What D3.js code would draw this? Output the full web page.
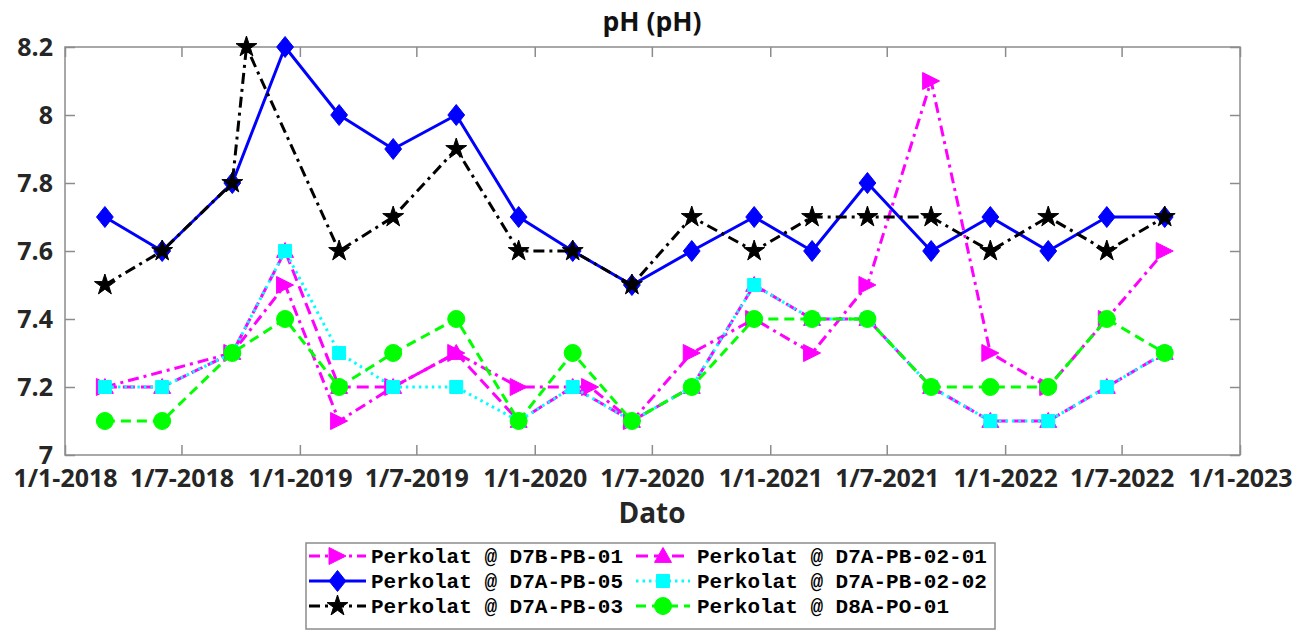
<!DOCTYPE html>
<meta charset="utf-8">

<style>

body {
  margin: 0;
  background: white;
}

svg.chart text {
  font-family: "Open Sans", sans-serif;
}

svg.chart .axis text {
  font-size: 25px;
  font-weight: 700;
  fill: #262626;
}

svg.chart .axis line {
  stroke: #8c8c8c;
  stroke-width: 1.5;
}

svg.chart text.title {
  font-size: 26.5px;
  font-weight: 700;
  fill: #111;
  text-anchor: middle;
}

svg.chart text.xlabel {
  font-size: 28px;
  font-weight: 700;
  fill: #262626;
  text-anchor: middle;
}

svg.chart .legend text {
  font-family: "Liberation Mono", monospace;
  font-size: 21px;
  font-weight: 700;
  fill: #000;
}

</style>

<svg class="chart" width="1309" height="631"></svg>

<script src="https://cdn.jsdelivr.net/npm/d3@7"></script>

<script>

// sampling dates (union of all series)
var dates = [
  "2018-03-04", "2018-06-01", "2018-09-18", "2018-10-10", "2018-12-09",
  "2019-03-03", "2019-05-26", "2019-09-01", "2019-12-07", "2020-02-29",
  "2020-03-27", "2020-05-31", "2020-09-01", "2020-12-07", "2021-03-07",
  "2021-06-01", "2021-09-08", "2021-12-09", "2022-03-09", "2022-06-08",
  "2022-09-06"
];

var seriesNames = [
  "Perkolat @ D7B-PB-01",
  "Perkolat @ D7A-PB-05",
  "Perkolat @ D7A-PB-03",
  "Perkolat @ D7A-PB-02-01",
  "Perkolat @ D7A-PB-02-02",
  "Perkolat @ D8A-PO-01"
];

var d7bPb01 =   [7.2, null, 7.3, null, 7.5, 7.1, 7.2, 7.3, 7.2, null, 7.2, 7.1, 7.3, 7.4, 7.3, 7.5, 8.1, 7.3, 7.2, 7.4, 7.6];
var d7aPb05 =   [7.7, 7.6, 7.8, null, 8.2, 8.0, 7.9, 8.0, 7.7, 7.6, null, 7.5, 7.6, 7.7, 7.6, 7.8, 7.6, 7.7, 7.6, 7.7, 7.7];
var d7aPb03 =   [7.5, 7.6, 7.8, 8.2, null, 7.6, 7.7, 7.9, 7.6, 7.6, null, 7.5, 7.7, 7.6, 7.7, 7.7, 7.7, 7.6, 7.7, 7.6, 7.7];
var d7aPb0201 = [7.2, 7.2, 7.3, null, 7.6, 7.2, 7.2, 7.3, 7.1, 7.2, null, 7.1, 7.2, 7.5, 7.4, 7.4, 7.2, 7.1, 7.1, 7.2, 7.3];
var d7aPb0202 = [7.2, 7.2, 7.3, null, 7.6, 7.3, 7.2, 7.2, 7.1, 7.2, null, 7.1, 7.2, 7.5, 7.4, 7.4, 7.2, 7.1, 7.1, 7.2, 7.3];
var d8aPo01 =   [7.1, 7.1, 7.3, null, 7.4, 7.2, 7.3, 7.4, 7.1, 7.3, null, 7.1, 7.2, 7.4, 7.4, 7.4, 7.2, 7.2, 7.2, 7.4, 7.3];

var xTickValues = [
  "2018-01-01", "2018-07-01", "2019-01-01", "2019-07-01", "2020-01-01",
  "2020-07-01", "2021-01-01", "2021-07-01", "2022-01-01", "2022-07-01",
  "2023-01-01"
];
var yTickValues = [7, 7.2, 7.4, 7.6, 7.8, 8, 8.2];

var svg = d3.select("svg.chart");
var plot = {left: 65, right: 1240, top: 47, bottom: 455};

var parseDate = d3.timeParse("%Y-%m-%d");
var formatTick = d3.timeFormat("%-d/%-m-%Y");

var xScale = d3.scaleTime()
  .domain([parseDate(xTickValues[0]), parseDate(xTickValues[xTickValues.length - 1])])
  .range([plot.left, plot.right]);

var yScale = d3.scaleLinear()
  .domain([7, 8.2])
  .range([plot.bottom, plot.top]);

// marker shapes
function diamond(s) {
  var w = s * 0.8, h = s;
  return `M0,${-h}L${w},0L0,${h}L${-w},0Z`;
}
function triRight(s) {
  return `M${s},0L${-s},${-s}L${-s},${s}Z`;
}
function triUp(s) {
  return `M0,${-s}L${s},${s * 0.75}L${-s},${s * 0.75}Z`;
}
function square(s) {
  return `M${-s},${-s}H${s}V${s}H${-s}Z`;
}
function circle(s) {
  return `M${s},0A${s},${s} 0 1,1 ${-s},0A${s},${s} 0 1,1 ${s},0Z`;
}
function star(s) {
  return d3.symbol(d3.symbolStar, s * s * 1.12)();
}

var series = [
  {name: seriesNames[0], values: d7bPb01,   color: "#ff00ff", dash: "11,5,3,5", width: 3, marker: triRight, size: 8.5},
  {name: seriesNames[1], values: d7aPb05,   color: "#0000ff", dash: null,       width: 3, marker: diamond,  size: 10.5},
  {name: seriesNames[2], values: d7aPb03,   color: "#000000", dash: "11,5,3,5", width: 3, marker: star,     size: 11},
  {name: seriesNames[3], values: d7aPb0201, color: "#ff00ff", dash: "12,6",     width: 3, marker: triUp,    size: 8.5},
  {name: seriesNames[4], values: d7aPb0202, color: "#00ffff", dash: "2.5,4",    width: 3, marker: square,   size: 6.5},
  {name: seriesNames[5], values: d8aPo01,   color: "#00ff00", dash: "10,6",     width: 3, marker: circle,   size: 8.5}
];

// Axes
var bottomAxis = d3.axisBottom(xScale)
  .tickValues(xTickValues.map(parseDate))
  .tickFormat(formatTick)
  .tickSizeInner(-10)
  .tickSizeOuter(0)
  .tickPadding(14);

var topAxis = d3.axisTop(xScale)
  .tickValues(xTickValues.map(parseDate))
  .tickFormat("")
  .tickSizeInner(-10)
  .tickSizeOuter(0);

var leftAxis = d3.axisLeft(yScale)
  .tickValues(yTickValues)
  .tickFormat(d3.format("~g"))
  .tickSizeInner(-10)
  .tickSizeOuter(0)
  .tickPadding(12);

var rightAxis = d3.axisRight(yScale)
  .tickValues(yTickValues)
  .tickFormat("")
  .tickSizeInner(-10)
  .tickSizeOuter(0);

svg.append("g").attr("class", "x axis")
  .attr("transform", `translate(0,${plot.bottom})`)
  .call(bottomAxis);
svg.append("g").attr("class", "x axis")
  .attr("transform", `translate(0,${plot.top})`)
  .call(topAxis);
svg.append("g").attr("class", "y axis")
  .attr("transform", `translate(${plot.left},0)`)
  .call(leftAxis);
svg.append("g").attr("class", "y axis")
  .attr("transform", `translate(${plot.right},0)`)
  .call(rightAxis);

svg.selectAll(".axis .domain").remove();
svg.selectAll(".axis text").attr("font-family", null).attr("font-size", null).attr("fill", null);

svg.append("rect")
  .attr("x", plot.left)
  .attr("y", plot.top)
  .attr("width", plot.right - plot.left)
  .attr("height", plot.bottom - plot.top)
  .attr("fill", "none")
  .attr("stroke", "#8c8c8c")
  .attr("stroke-width", 1.5);

// Lines and markers
var line = d3.line()
  .x(function(p) { return xScale(p.date); })
  .y(function(p) { return yScale(p.value); });

series.forEach(function(s) {
  var points = dates.map(function(d, i) {
    return {date: parseDate(d), value: s.values[i]};
  }).filter(function(p) { return p.value != null; });

  var g = svg.append("g").attr("class", "series");

  g.append("path")
    .datum(points)
    .attr("d", line)
    .attr("fill", "none")
    .attr("stroke", s.color)
    .attr("stroke-width", s.width)
    .attr("stroke-dasharray", s.dash)
    .attr("stroke-linejoin", "round");

  g.selectAll(".marker")
    .data(points)
    .enter().append("path")
      .attr("class", "marker")
      .attr("transform", function(p) { return `translate(${xScale(p.date)},${yScale(p.value)})`; })
      .attr("d", s.marker(s.size))
      .attr("fill", s.color)
      .attr("stroke", s.color)
      .attr("stroke-width", 1);
});

// Titles
svg.append("text")
  .attr("class", "title")
  .attr("x", 652)
  .attr("y", 31)
  .text("pH (pH)");

svg.append("text")
  .attr("class", "xlabel")
  .attr("x", 652)
  .attr("y", 523)
  .text("Dato");

// Legend
var legend = svg.append("g").attr("class", "legend");

legend.append("rect")
  .attr("x", 306)
  .attr("y", 543)
  .attr("width", 689)
  .attr("height", 86)
  .attr("fill", "white")
  .attr("stroke", "#8c8c8c")
  .attr("stroke-width", 1.5);

var legendCols = [{x0: 309, x1: 366, tx: 371}, {x0: 636, x1: 690, tx: 697}];
var legendRows = [556, 581, 606];

series.forEach(function(s, i) {
  var col = legendCols[Math.floor(i / 3)];
  var y = legendRows[i % 3];
  var item = legend.append("g");

  item.append("line")
    .attr("x1", col.x0)
    .attr("x2", col.x1)
    .attr("y1", y)
    .attr("y2", y)
    .attr("stroke", s.color)
    .attr("stroke-width", s.width)
    .attr("stroke-dasharray", s.dash);

  item.append("path")
    .attr("transform", `translate(${(col.x0 + col.x1) / 2},${y})`)
    .attr("d", s.marker(s.size))
    .attr("fill", s.color)
    .attr("stroke", s.color)
    .attr("stroke-width", 1);

  item.append("text")
    .attr("x", col.tx)
    .attr("y", y)
    .attr("dy", "0.35em")
    .text(s.name);
});

</script>
